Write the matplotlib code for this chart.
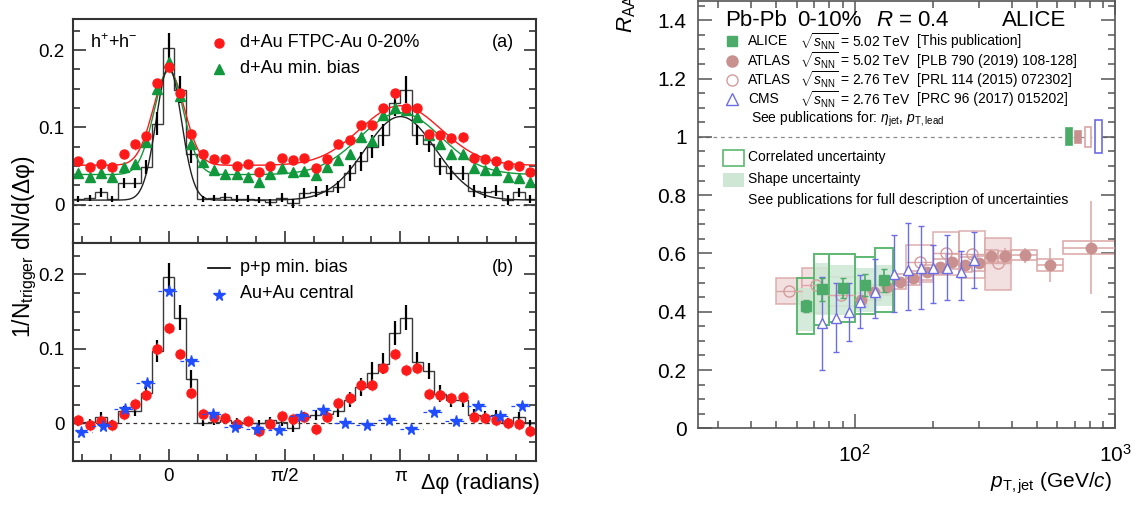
import numpy as np
import matplotlib
matplotlib.use('Agg')
import matplotlib.pyplot as plt
from matplotlib.patches import Rectangle
from matplotlib.lines import Line2D
from matplotlib.ticker import FixedLocator, MultipleLocator, FuncFormatter, NullFormatter

plt.rcParams['font.family'] = ['Liberation Sans', 'DejaVu Sans']
plt.rcParams['mathtext.fontset'] = 'custom'
plt.rcParams['mathtext.rm'] = 'Liberation Sans'
plt.rcParams['mathtext.it'] = 'Liberation Sans:italic'
plt.rcParams['mathtext.bf'] = 'Liberation Sans:bold'

W, H = 1142, 508

# ---------------- azimuthal correlations (left) ----------------
# 41 bins over 2pi, bins k=-8..32
k = np.arange(-8, 33)
wbin = 2 * np.pi / 41
dphi = k * wbin
edges = np.append(dphi - wbin / 2, dphi[-1] + wbin / 2)

dau_central = [0.056, 0.049, 0.053, 0.049, 0.066, 0.078, 0.089, 0.158,
               0.178, 0.145, 0.092, 0.066, 0.059, 0.059, 0.050, 0.053, 0.042, 0.050,
               0.061, 0.058, 0.060, 0.048, 0.059, 0.079, 0.084, 0.103, 0.103, 0.125,
               0.144, 0.125, 0.125, 0.092, 0.090, 0.086, 0.087, 0.060, 0.059, 0.056,
               0.051, 0.050, 0.042]
dau_minbias = [0.041, 0.036, 0.041, 0.036, 0.049, 0.053, 0.081, 0.150,
               0.185, 0.140, 0.079, 0.055, 0.045, 0.040, 0.040, 0.036, 0.030, 0.040,
               0.047, 0.042, 0.044, 0.038, 0.049, 0.058, 0.066, 0.087, 0.083, 0.116,
               0.125, 0.122, 0.114, 0.090, 0.078, 0.066, 0.066, 0.047, 0.045, 0.045,
               0.036, 0.034, 0.030]
pp_raw = [0.007, 0.009, 0.016, 0.007, 0.028, 0.028, 0.049, 0.105,
          0.203, 0.149, 0.066, 0.007, 0.009, 0.010, 0.008, 0.008, 0.006, 0.003,
          0.009, 0.002, 0.015, 0.017, 0.018, 0.023, 0.041, 0.056, 0.075, 0.090,
          0.131, 0.149, 0.090, 0.079, 0.050, 0.041, 0.041, 0.018, 0.016, 0.018,
          0.006, 0.016, 0.007]
pp_sub = [0.001, 0.002, 0.009, 0.000, 0.017, 0.017, 0.041, 0.097,
          0.196, 0.142, 0.059, 0.001, 0.002, 0.004, 0.002, 0.001, 0.000, 0.004,
          0.002, -0.006, 0.009, 0.011, 0.012, 0.017, 0.032, 0.049, 0.067, 0.080,
          0.121, 0.142, 0.083, 0.070, 0.040, 0.031, 0.031, 0.011, 0.010, 0.011,
          0.001, 0.009, 0.000]
pp_err = [0.004, 0.004, 0.006, 0.004, 0.006, 0.007, 0.009, 0.015,
          0.019, 0.017, 0.012, 0.004, 0.004, 0.005, 0.005, 0.004, 0.004, 0.005,
          0.006, 0.006, 0.006, 0.007, 0.007, 0.008, 0.010, 0.012, 0.015, 0.014,
          0.016, 0.017, 0.013, 0.011, 0.011, 0.009, 0.009, 0.008, 0.007, 0.007,
          0.006, 0.006, 0.005]
dau_sub = [0.004, -0.002, 0.003, -0.002, 0.013, 0.026, 0.038, 0.100,
           0.128, 0.093, 0.041, 0.013, 0.008, 0.007, -0.001, 0.003, -0.010, -0.001,
           0.010, 0.006, 0.008, -0.007, 0.008, 0.028, 0.034, 0.051, 0.052, 0.075,
           0.093, 0.072, 0.074, 0.040, 0.038, 0.034, 0.035, 0.008, 0.007, 0.004,
           0.000, -0.001, -0.010]

# Au+Au central uses 21 bins over 2pi
k_au = np.arange(-4, 17)
wbin_au = 2 * np.pi / 21
dphi_au = k_au * wbin_au
auau = [-0.011, -0.004, 0.020, 0.054, 0.178, 0.084, 0.013, -0.005, -0.007,
        -0.009, 0.010, 0.018, 0.000, -0.002, 0.004, -0.007, 0.015, 0.003,
        0.024, 0.010, 0.024]

# gaussian fit parameters: pedestal, near amp, near sigma, away amp, away sigma
fit_central = (0.051, 0.122, 0.21, 0.077, 0.55)
fit_minbias = (0.039, 0.135, 0.20, 0.080, 0.55)
fit_pp = (0.006, 0.172, 0.17, 0.108, 0.48)


def pair_fit(x, ped, a_near, s_near, a_away, s_away):
    near = sum(np.exp(-(x - c) ** 2 / (2 * s_near ** 2)) for c in (0, 2 * np.pi))
    away = sum(np.exp(-(x - c) ** 2 / (2 * s_away ** 2)) for c in (-np.pi, np.pi))
    return ped + a_near * near + a_away * away


# ---------------- jet RAA (right) ----------------
alice_lo = [60, 70, 80, 100, 120]
alice_hi = [70, 80, 100, 120, 140]
alice_raa = [0.419, 0.477, 0.482, 0.491, 0.508]
alice_stat = [0.02, 0.04, 0.035, 0.038, 0.04]
alice_corr_lo = [0.323, 0.356, 0.366, 0.392, 0.400]
alice_corr_hi = [0.516, 0.598, 0.598, 0.586, 0.617]
alice_shape_lo = [0.335, 0.388, 0.389, 0.400, 0.420]
alice_shape_hi = [0.480, 0.566, 0.560, 0.550, 0.560]

atlas5_lo = [100, 112, 126, 141, 158, 178, 200, 224, 251, 282, 316, 355, 398, 501, 631]
atlas5_hi = [112, 126, 141, 158, 178, 200, 224, 251, 282, 316, 355, 398, 501, 631, 1000]
atlas5_pt = [106, 119, 133, 149, 168, 189, 212, 237, 266, 299, 335, 376, 449, 563, 810]
atlas5_raa = [0.440, 0.466, 0.484, 0.503, 0.515, 0.535, 0.555, 0.572, 0.561,
              0.566, 0.591, 0.590, 0.594, 0.560, 0.620]
atlas5_stat = [0.008, 0.008, 0.008, 0.008, 0.008, 0.010, 0.010, 0.010, 0.012,
               0.015, 0.025, 0.030, 0.026, 0.058, 0.160]
atlas5_sys = [0.025, 0.025, 0.025, 0.025, 0.025, 0.025, 0.025, 0.025, 0.025,
              0.025, 0.022, 0.020, 0.017, 0.020, 0.021]

atlas2_lo = [50, 63, 79, 158, 200, 251, 316]
atlas2_hi = [63, 79, 100, 200, 251, 316, 398]
atlas2_pt = [56, 71, 89, 178, 224, 282, 356]
atlas2_raa = [0.472, 0.491, 0.457, 0.571, 0.600, 0.598, 0.566]
atlas2_sys_lo = [0.428, 0.394, 0.420, 0.503, 0.526, 0.514, 0.474]
atlas2_sys_hi = [0.514, 0.550, 0.520, 0.628, 0.672, 0.677, 0.653]
atlas2_shaded = [True, True, False, False, False, False, True]

cms_pt = [75, 85, 95, 105, 120, 141, 160, 180, 200, 226, 256, 286]
cms_raa = [0.360, 0.377, 0.398, 0.432, 0.468, 0.531, 0.543, 0.549, 0.550,
           0.549, 0.537, 0.579]
cms_lo = [0.200, 0.262, 0.300, 0.343, 0.380, 0.400, 0.405, 0.411, 0.430,
          0.440, 0.440, 0.480]
cms_hi = [0.520, 0.500, 0.500, 0.525, 0.580, 0.663, 0.703, 0.694, 0.628,
          0.663, 0.609, 0.674]

# normalisation uncertainties drawn at RAA = 1
norm_half = [0.029, 0.021, 0.035, 0.057]
norm_xlo = [647, 700, 764, 835]
norm_xhi = [680, 737, 810, 886]

RED = '#ff1a1a'
GREEN = '#12983c'
BLUE = '#1f4dff'
A_GREEN = '#4cab69'
A_GREEN_BOX = '#5db871'
A_GREEN_FILL = '#cde7d4'
ATL = '#c8918f'
ATL_BOX = '#daa6a6'
ATL_FILL = '#f1dddd'
CMS = '#6d6de3'

fig = plt.figure(figsize=(W / 100, H / 100), dpi=100)


def frac(x, y):
    return x / W, 1 - y / H


ax_a = fig.add_axes([72.7 / W, 1 - 243 / H, 463.3 / W, 224.3 / H])
ax_b = fig.add_axes([72.7 / W, 1 - 460.7 / H, 463.3 / W, 217.7 / H])
ax_r = fig.add_axes([697.7 / W, 1 - 428.3 / H, 417.6 / W, 427.3 / H])

xf = np.linspace(-1.31, 4.99, 600)

# panel (a)
ax_a.axhline(0, color='#333333', ls=(0, (3, 3)), lw=0.9)
ax_a.plot(xf, pair_fit(xf, *fit_central), color=RED, lw=1)
ax_a.plot(xf, pair_fit(xf, *fit_minbias), color=GREEN, lw=1)
ax_a.plot(xf, pair_fit(xf, *fit_pp), color='#222222', lw=1)
ax_a.stairs(pp_raw, edges, color='#3a3a3a', lw=1)
ax_a.vlines(dphi, np.array(pp_raw) - pp_err, np.array(pp_raw) + pp_err, color='black', lw=1.6)
ax_a.vlines(dphi, np.array(dau_central) - 0.007, np.array(dau_central) + 0.007,
            colors='#ff8080', linestyles=':', lw=1)
ax_a.plot(dphi, dau_minbias, '^', color=GREEN, ms=7.5, mec=GREEN)
ax_a.plot(dphi, dau_central, 'o', color=RED, ms=6.5, mec=RED)

ax_a.text(0.038, 0.892, r'h$^{+}$+h$^{-}$', transform=ax_a.transAxes, fontsize=13, va='center')
ax_a.plot([0.3164], [0.893], 'o', color=RED, ms=6.5, transform=ax_a.transAxes)
ax_a.text(0.361, 0.892, 'd+Au FTPC-Au 0-20%', transform=ax_a.transAxes, fontsize=13, va='center')
ax_a.plot([0.3164], [0.774], '^', color=GREEN, ms=7.5, transform=ax_a.transAxes)
ax_a.text(0.361, 0.778, 'd+Au min. bias', transform=ax_a.transAxes, fontsize=13, va='center')
ax_a.text(0.905, 0.892, '(a)', transform=ax_a.transAxes, fontsize=13, va='center')

# panel (b)
ax_b.axhline(0, color='#333333', ls=(0, (3, 3)), lw=0.9)
ax_b.stairs(pp_sub, edges, color='#3a3a3a', lw=1)
ax_b.vlines(dphi, np.array(pp_sub) - pp_err, np.array(pp_sub) + pp_err, color='black', lw=1.6)
ax_b.vlines(dphi, np.array(dau_sub) - 0.008, np.array(dau_sub) + 0.008,
            colors='#ff8080', linestyles=':', lw=1)
ax_b.plot(dphi, dau_sub, 'o', color=RED, ms=6.5, mec=RED)
ax_b.hlines(auau, dphi_au - wbin_au / 2, dphi_au + wbin_au / 2, colors=BLUE,
            linestyles=(0, (3, 3)), lw=0.9)
ax_b.plot(dphi_au, auau, '*', color=BLUE, ms=8.5, mec=BLUE)

ax_b.plot([0.292, 0.340], [0.884, 0.884], color='black', lw=1.2, transform=ax_b.transAxes)
ax_b.text(0.361, 0.886, 'p+p min. bias', transform=ax_b.transAxes, fontsize=13, va='center')
ax_b.plot([0.316], [0.761], '*', color=BLUE, ms=8.5, transform=ax_b.transAxes)
ax_b.text(0.361, 0.766, 'Au+Au central', transform=ax_b.transAxes, fontsize=13, va='center')
ax_b.text(0.905, 0.886, '(b)', transform=ax_b.transAxes, fontsize=13, va='center')

for ax, ylo, yhi in ((ax_a, -0.0495, 0.2406), (ax_b, -0.050, 0.242)):
    ax.set_xlim(-1.303, 4.98)
    ax.set_ylim(ylo, yhi)
    ax.xaxis.set_major_locator(FixedLocator([0, np.pi / 2, np.pi]))
    ax.xaxis.set_minor_locator(FixedLocator(np.arange(-3, 13) * np.pi / 8))
    ax.yaxis.set_major_locator(FixedLocator([0, 0.1, 0.2]))
    ax.yaxis.set_minor_locator(MultipleLocator(0.025))
    ax.set_yticklabels(['0', '0.1', '0.2'])
    ax.tick_params(which='both', direction='in', right=True, top=False,
                   width=1.2, color='#333333', labelsize=13.5, pad=6)
    ax.tick_params(which='major', length=9)
    ax.tick_params(which='minor', length=5)
    for s in ax.spines.values():
        s.set_linewidth(1.5)
        s.set_color('#333333')

ax_a.tick_params(labelbottom=False)
ax_b.set_xticklabels(['0', 'π/2', 'π'])
ax_b.tick_params(axis='x', pad=5)

# shared y title, written bottom to top
fig.text(*frac(30, 338), '1/N$_{\\rm trigger}$ dN/d(Δφ)', rotation=90, rotation_mode='anchor',
         ha='left', va='baseline', fontsize=16.5)
fig.text(*frac(540, 484), 'Δφ (radians)', ha='right', va='center', fontsize=15.5)

# ---------------- right panel ----------------
ax_r.set_xscale('log')
ax_r.set_xlim(25, 1000)
ax_r.set_ylim(0, 1.466)
ax_r.axhline(1, color='#8a8a8a', ls=(0, (3, 3)), lw=0.9, zorder=1)

for lo, hi, ylo, yhi, shaded in zip(atlas2_lo, atlas2_hi, atlas2_sys_lo, atlas2_sys_hi,
                                    atlas2_shaded):
    ax_r.add_patch(Rectangle((lo, ylo), hi - lo, yhi - ylo,
                             fc=ATL_FILL if shaded else 'none', ec=ATL_BOX,
                             lw=1.1, alpha=0.9, zorder=2))
for lo, hi, y, s in zip(atlas5_lo, atlas5_hi, atlas5_raa, atlas5_sys):
    ax_r.add_patch(Rectangle((lo, y - s), hi - lo, 2 * s, fc='none', ec=ATL_BOX,
                             lw=1.1, zorder=2))
for lo, hi, ylo, yhi in zip(alice_lo, alice_hi, alice_shape_lo, alice_shape_hi):
    ax_r.add_patch(Rectangle((lo, ylo), hi - lo, yhi - ylo, fc=A_GREEN_FILL, ec='none',
                             alpha=0.85, zorder=3))
for lo, hi, ylo, yhi in zip(alice_lo, alice_hi, alice_corr_lo, alice_corr_hi):
    ax_r.add_patch(Rectangle((lo, ylo), hi - lo, yhi - ylo, fc='none', ec=A_GREEN_BOX,
                             lw=1.4, zorder=4))

atlas2_xerr = [np.subtract(atlas2_pt, atlas2_lo), np.subtract(atlas2_hi, atlas2_pt)]
ax_r.errorbar(atlas2_pt, atlas2_raa, xerr=atlas2_xerr, fmt='o', ms=8, mfc='none',
              mec='#d39c9c', ecolor=ATL_BOX, elinewidth=1, zorder=5)
atlas5_xerr = [np.subtract(atlas5_pt, atlas5_lo), np.subtract(atlas5_hi, atlas5_pt)]
ax_r.errorbar(atlas5_pt, atlas5_raa, xerr=atlas5_xerr, yerr=atlas5_stat, fmt='o', ms=7.5,
              color=ATL, ecolor=ATL_BOX, elinewidth=1.1, zorder=6)
cms_err = [np.subtract(cms_raa, cms_lo), np.subtract(cms_hi, cms_raa)]
ax_r.errorbar(cms_pt, cms_raa, yerr=cms_err, fmt='^', ms=7.5, mfc='white', mec=CMS,
              ecolor=CMS, elinewidth=1, capsize=2.5, capthick=1, zorder=7)
alice_pt = [(a + b) / 2 for a, b in zip(alice_lo, alice_hi)]
ax_r.errorbar(alice_pt, alice_raa, yerr=alice_stat, fmt='s', ms=7, color=A_GREEN,
              ecolor=A_GREEN, elinewidth=1.2, capsize=2, zorder=8)

# normalisation boxes
norm_styles = [dict(fc=A_GREEN, ec=A_GREEN), dict(fc=ATL, ec=ATL),
               dict(fc='white', ec=ATL_BOX), dict(fc='white', ec=CMS)]
for lo, hi, h, st in zip(norm_xlo, norm_xhi, norm_half, norm_styles):
    ax_r.add_patch(Rectangle((lo, 1 - h), hi - lo, 2 * h, lw=1.2, zorder=4, **st))

ax_r.xaxis.set_major_locator(FixedLocator([100, 1000]))
ax_r.xaxis.set_minor_locator(FixedLocator([30, 40, 50, 60, 70, 80, 90,
                                           200, 300, 400, 500, 600, 700, 800, 900]))
ax_r.xaxis.set_minor_formatter(NullFormatter())
ax_r.set_xticklabels(['$10^2$', '$10^3$'])
ax_r.yaxis.set_major_locator(MultipleLocator(0.2))
ax_r.yaxis.set_minor_locator(MultipleLocator(0.05))
ax_r.yaxis.set_major_formatter(FuncFormatter(lambda v, p: '%g' % round(v, 2)))
ax_r.tick_params(which='both', direction='in', top=True, right=True,
                 color='#555555', width=1.1, labelsize=15)
ax_r.tick_params(which='major', length=10)
ax_r.tick_params(which='minor', length=5)
ax_r.tick_params(axis='y', pad=8)
ax_r.tick_params(axis='x', pad=11)
for s in ax_r.spines.values():
    s.set_linewidth(1.2)
    s.set_color('#555555')

fig.text(*frac(627, 33), r'$R_{\rm AA}$', rotation=90, rotation_mode='anchor',
         ha='left', va='center', fontsize=16)
fig.text(*frac(1112, 483), r'$p_{\rm T,jet}$ (GeV/$c$)', ha='right', va='center', fontsize=15)

# header and legend
fig.text(*frac(725, 21), 'Pb-Pb', fontsize=16, va='center')
fig.text(*frac(797, 21), '0-10%', fontsize=16, va='center')
fig.text(*frac(876, 21), '$R$ = 0.4', fontsize=16, va='center')
fig.text(*frac(1002, 21), 'ALICE', fontsize=16, va='center')

rows = [
    ('s', dict(color=A_GREEN, ms=7), 'ALICE', '5.02', '[This publication]'),
    ('o', dict(color=ATL, ms=8), 'ATLAS', '5.02', '[PLB 790 (2019) 108-128]'),
    ('o', dict(mfc='none', mec='#d39c9c', ms=8), 'ATLAS', '2.76', '[PRL 114 (2015) 072302]'),
    ('^', dict(mfc='none', mec=CMS, ms=8), 'CMS', '2.76', '[PRC 96 (2017) 015202]'),
]
for i, (m, st, name, en, ref) in enumerate(rows):
    y = 41.3 + 19.3 * i
    fig.add_artist(Line2D([732 / W], [1 - y / H], marker=m, ls='none', **st))
    fig.text(*frac(748, y), name, fontsize=10, va='center')
    fig.text(*frac(800, y), r'$\sqrt{s_{\rm NN}}$ = ' + en + ' TeV', fontsize=10, va='center')
    fig.text(*frac(917, y), ref, fontsize=10, va='center')
fig.text(*frac(751, 119), r'See publications for: $\eta_{\rm jet}$, $p_{\rm T,lead}$',
         fontsize=10, va='center')

fig.add_artist(Rectangle(frac(723, 165.7), 21 / W, 15.7 / H, fc='white', ec=A_GREEN_BOX,
                         lw=1.2, transform=fig.transFigure))
fig.add_artist(Rectangle(frac(723, 186.7), 21 / W, 14 / H, fc=A_GREEN_FILL, ec='none',
                         transform=fig.transFigure))
fig.text(*frac(748, 157), 'Correlated uncertainty', fontsize=10, va='center')
fig.text(*frac(748, 179), 'Shape uncertainty', fontsize=10, va='center')
fig.text(*frac(748, 200), 'See publications for full description of uncertainties',
         fontsize=10.2, va='center')

fig.savefig('out.png', dpi=100)
